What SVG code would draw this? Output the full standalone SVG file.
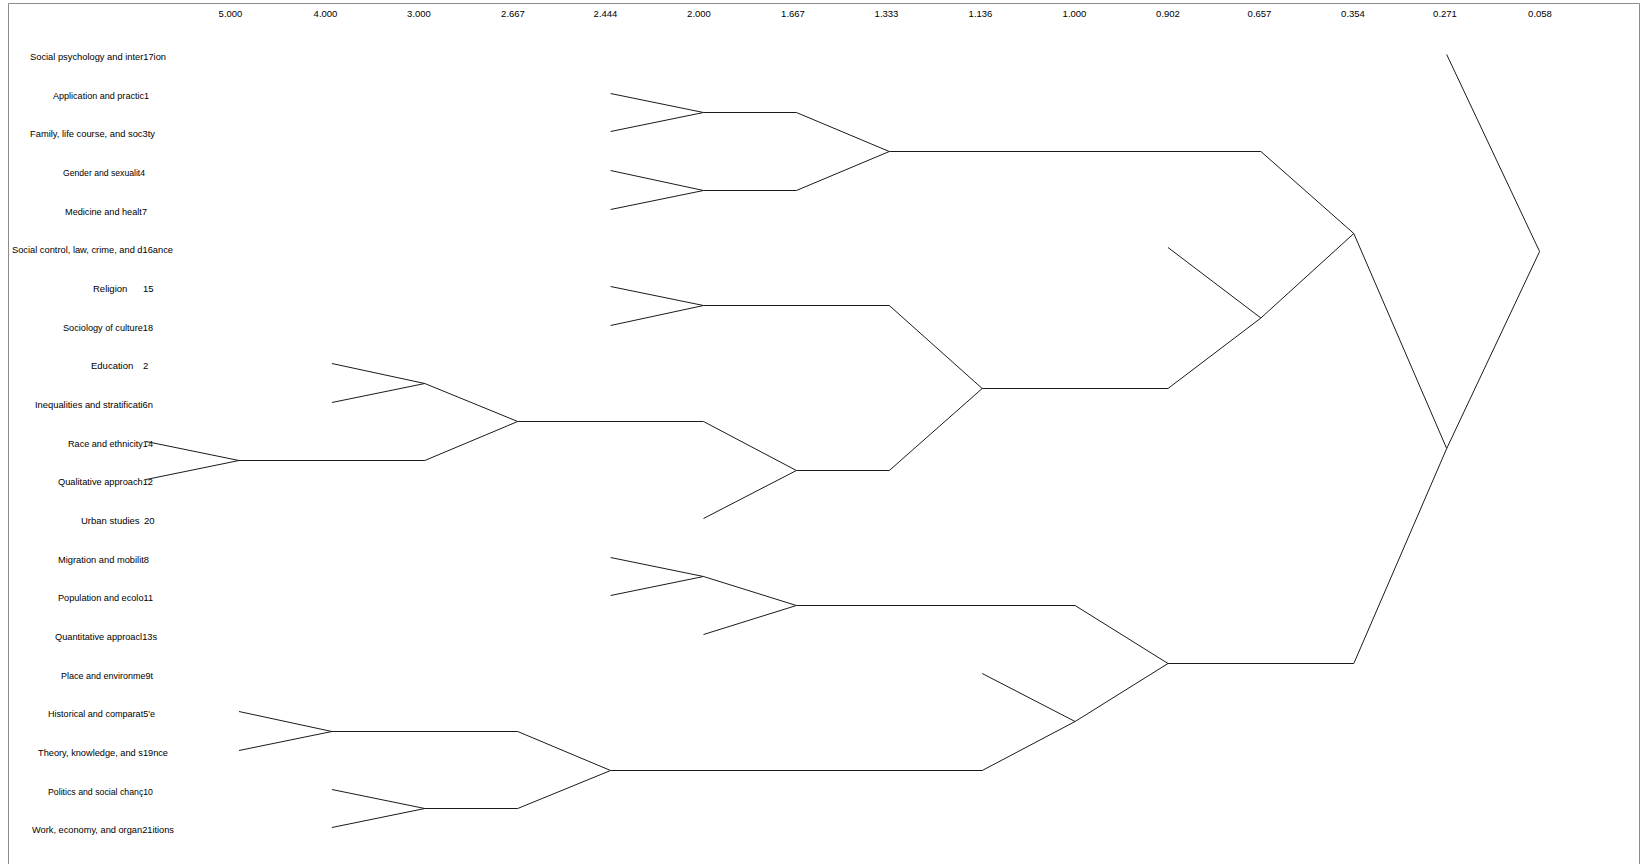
<svg xmlns="http://www.w3.org/2000/svg" width="1642" height="864" viewBox="0 0 1642 864">
<style>
.lbl { font-family: "Liberation Sans", Arial, sans-serif; font-size: 9.5px; fill: #000; }
.ax { font-family: "Liberation Sans", Arial, sans-serif; font-size: 9.5px; fill: #000; text-anchor: middle; }
.conn path { fill: none; stroke: #1a1a1a; stroke-width: 1; }
.frame { fill: none; stroke: #8c8c8c; stroke-width: 1; }
</style>
<rect width="1642" height="864" fill="#fff"/>
<path class="frame" d="M8.5,864 V3.5 H1639.5 V864"/>
<g id="axis">
<text class="ax" x="230.5" y="16.5">5.000</text>
<text class="ax" x="325.5" y="16.5">4.000</text>
<text class="ax" x="419" y="16.5">3.000</text>
<text class="ax" x="513" y="16.5">2.667</text>
<text class="ax" x="605.5" y="16.5">2.444</text>
<text class="ax" x="699" y="16.5">2.000</text>
<text class="ax" x="793" y="16.5">1.667</text>
<text class="ax" x="886.5" y="16.5">1.333</text>
<text class="ax" x="980.5" y="16.5">1.136</text>
<text class="ax" x="1074.5" y="16.5">1.000</text>
<text class="ax" x="1168" y="16.5">0.902</text>
<text class="ax" x="1259.5" y="16.5">0.657</text>
<text class="ax" x="1353" y="16.5">0.354</text>
<text class="ax" x="1445" y="16.5">0.271</text>
<text class="ax" x="1540" y="16.5">0.058</text>
</g>
<g id="leaf17"><text class="lbl" x="30" y="59.5" textLength="136" lengthAdjust="spacingAndGlyphs">Social psychology and inter17ion</text></g>
<g id="leaf1"><text class="lbl" x="53" y="98.5" textLength="96" lengthAdjust="spacingAndGlyphs">Application and practic1</text></g>
<g id="leaf3"><text class="lbl" x="30" y="136.5" textLength="125" lengthAdjust="spacingAndGlyphs">Family, life course, and soc3ty</text></g>
<g id="leaf4"><text class="lbl" x="63" y="175.5" textLength="82" lengthAdjust="spacingAndGlyphs">Gender and sexualit4</text></g>
<g id="leaf7"><text class="lbl" x="65" y="214.5" textLength="82" lengthAdjust="spacingAndGlyphs">Medicine and healt7</text></g>
<g id="leaf16"><text class="lbl" x="12" y="252.5" textLength="161" lengthAdjust="spacingAndGlyphs">Social control, law, crime, and d16ance</text></g>
<g id="leaf15"><text class="lbl" y="291.5"><tspan x="93">Religion</tspan><tspan x="143">15</tspan></text></g>
<g id="leaf18"><text class="lbl" x="63" y="330.5" textLength="90" lengthAdjust="spacingAndGlyphs">Sociology of culture18</text></g>
<g id="leaf2"><text class="lbl" y="368.5"><tspan x="91">Education</tspan><tspan x="143">2</tspan></text></g>
<g id="leaf6"><text class="lbl" x="35" y="407.5" textLength="118" lengthAdjust="spacingAndGlyphs">Inequalities and stratificati6n</text></g>
<g id="leaf14"><text class="lbl" x="68" y="446.5" textLength="85" lengthAdjust="spacingAndGlyphs">Race and ethnicity14</text></g>
<g id="leaf12"><text class="lbl" x="58" y="484.5" textLength="95" lengthAdjust="spacingAndGlyphs">Qualitative approach12</text></g>
<g id="leaf20"><text class="lbl" y="523.5"><tspan x="81">Urban studies</tspan><tspan x="144">20</tspan></text></g>
<g id="leaf8"><text class="lbl" x="58" y="562.5" textLength="91" lengthAdjust="spacingAndGlyphs">Migration and mobilit8</text></g>
<g id="leaf11"><text class="lbl" x="58" y="600.5" textLength="95" lengthAdjust="spacingAndGlyphs">Population and ecolo11</text></g>
<g id="leaf13"><text class="lbl" x="55" y="639.5" textLength="102" lengthAdjust="spacingAndGlyphs">Quantitative approacl13s</text></g>
<g id="leaf9"><text class="lbl" x="61" y="678.5" textLength="92" lengthAdjust="spacingAndGlyphs">Place and environme9t</text></g>
<g id="leaf5"><text class="lbl" x="48" y="716.5" textLength="107" lengthAdjust="spacingAndGlyphs">Historical and comparat5'e</text></g>
<g id="leaf19"><text class="lbl" x="38" y="755.5" textLength="130" lengthAdjust="spacingAndGlyphs">Theory, knowledge, and s19nce</text></g>
<g id="leaf10"><text class="lbl" x="48" y="794.5" textLength="105" lengthAdjust="spacingAndGlyphs">Politics and social chanç10</text></g>
<g id="leaf21"><text class="lbl" x="32" y="832.5" textLength="142" lengthAdjust="spacingAndGlyphs">Work, economy, and organ21itions</text></g>
<g id="connectors" class="conn">
<path d="M610.6,93.5 L703.5,112.5 L610.6,131.5 M703.5,112.5 H796.4"/>
<path d="M610.6,170.5 L703.5,190.5 L610.6,209.5 M703.5,190.5 H796.4"/>
<path d="M796.4,112.5 L889.3,151.5 L796.4,190.5 M889.3,151.5 H1260.9"/>
<path d="M610.6,286.5 L703.5,305.5 L610.6,325.5 M703.5,305.5 H889.3"/>
<path d="M331.9,363.5 L424.8,383.5 L331.9,402.5"/>
<path d="M146.1,441.5 L239,460.5 L146.1,479.5 M239,460.5 H424.8"/>
<path d="M424.8,383.5 L517.7,421.5 L424.8,460.5 M517.7,421.5 H703.5"/>
<path d="M703.5,421.5 L796.4,470.5 L703.5,518.5 M796.4,470.5 H889.3"/>
<path d="M889.3,305.5 L982.2,388.5 L889.3,470.5 M982.2,388.5 H1168"/>
<path d="M1168,247.5 L1260.9,318 L1168,388.5"/>
<path d="M1260.9,151.5 L1353.8,233.5 L1260.9,318"/>
<path d="M610.6,557.5 L703.5,576.5 L610.6,595.5"/>
<path d="M703.5,576.5 L796.4,605.5 L703.5,634.5 M796.4,605.5 H1075.1"/>
<path d="M239,711.5 L331.9,731.5 L239,750.5 M331.9,731.5 H517.7"/>
<path d="M331.9,789.5 L424.8,808.5 L331.9,827.5 M424.8,808.5 H517.7"/>
<path d="M517.7,731.5 L610.6,770.5 L517.7,808.5 M610.6,770.5 H982.2"/>
<path d="M982.2,673.5 L1075.1,721.5 L982.2,770.5"/>
<path d="M1075.1,605.5 L1168,663.5 L1075.1,721.5 M1168,663.5 H1353.8"/>
<path d="M1353.8,233.5 L1446.7,448.5 L1353.8,663.5"/>
<path d="M1446.7,54.5 L1539.6,251.5 L1446.7,448.5"/>
</g>
</svg>
